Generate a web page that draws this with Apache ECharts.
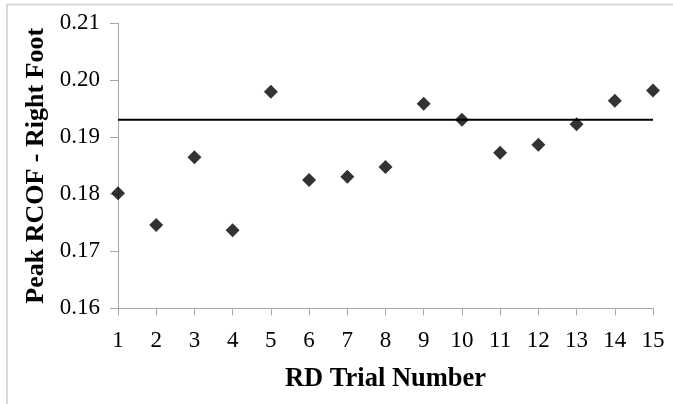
<!DOCTYPE html>
<html>
<head>
<meta charset="utf-8">
<script src="https://cdn.jsdelivr.net/npm/echarts@6/dist/echarts.min.js"></script>
<style>html,body{margin:0;padding:0;background:#fff}#c{width:673px;height:404px}</style>
</head>
<body>
<div id="c"></div>
<script>
var trials = [1,2,3,4,5,6,7,8,9,10,11,12,13,14,15];
var rcof = [0.1802,0.1746,0.1865,0.1737,0.1980,0.1825,0.1831,0.1848,0.1959,0.1931,0.1873,0.1887,0.1923,0.1964,0.1982];
var refValue = 0.1931;
var yTicks = [0.16,0.17,0.18,0.19,0.20,0.21];

var chart = echarts.init(document.getElementById('c'));
var font = 'Liberation Serif';
chart.setOption({
  animation:false,
  backgroundColor:'#fff',
  graphic:[{
    type:'polyline',
    shape:{points:[[7,410],[7,4.5],[680,4.5]]},
    style:{stroke:'#d9d9d9',lineWidth:2,fill:null}
  }],
  grid:{left:118,right:20,top:23.3,bottom:95.7,containLabel:false},
  xAxis:{
    type:'value',min:1,max:15,interval:1,
    name:'RD Trial Number',nameLocation:'middle',nameGap:57,
    nameTextStyle:{fontFamily:font,fontWeight:'bold',fontSize:26.5,color:'#000'},
    axisLine:{lineStyle:{color:'#a6a6a6',width:1}},
    axisTick:{show:true,length:7,lineStyle:{color:'#a6a6a6'}},
    axisLabel:{fontFamily:font,fontSize:23,color:'#000',margin:21},
    splitLine:{show:false}
  },
  yAxis:{
    type:'value',min:0.16,max:0.21,interval:0.01,
    name:'Peak RCOF - Right Foot',nameLocation:'middle',nameGap:68,
    nameTextStyle:{fontFamily:font,fontWeight:'bold',fontSize:26,color:'#000'},
    axisLine:{show:true,lineStyle:{color:'#a6a6a6',width:1}},
    axisTick:{show:true,length:8,lineStyle:{color:'#a6a6a6'}},
    axisLabel:{fontFamily:font,fontSize:23,color:'#000',margin:18,
      formatter:function(v){return v.toFixed(2);}},
    splitLine:{show:false}
  },
  series:[{
    type:'line',
    data:[[trials[0],refValue],[trials[trials.length-1],refValue]],
    symbol:'none',
    lineStyle:{color:'#000',width:2},
    z:1
  },{
    type:'scatter',
    data:trials.map(function(t,i){return [t,rcof[i]];}),
    symbol:'diamond',symbolSize:[14,14],
    itemStyle:{color:'#000'},
    z:3
  }]
});
</script>
</body>
</html>
